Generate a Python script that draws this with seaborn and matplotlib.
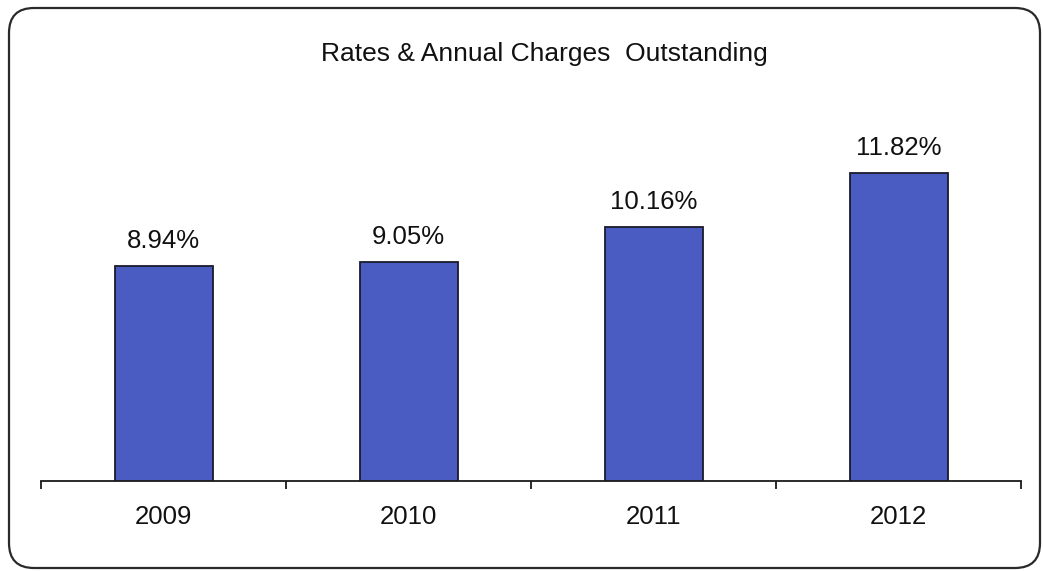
import matplotlib
matplotlib.use("Agg")
import matplotlib.pyplot as plt
from matplotlib.patches import FancyBboxPatch
import seaborn as sns
import pandas as pd

years = ["2009", "2010", "2011", "2012"]
outstanding_pct = [8.94, 9.05, 10.16, 11.82]
title = "Rates & Annual Charges  Outstanding"

sns.set_theme(style="white")
plt.rcParams["font.family"] = ["Liberation Sans", "DejaVu Sans"]

W, H, DPI = 1043, 571, 100
fig = plt.figure(figsize=(W / DPI, H / DPI), dpi=DPI)
fig.patch.set_facecolor("white")

# rounded outer frame
frame = FancyBboxPatch((0.09, 0.03), 10.31, 5.60,
                       boxstyle="round,pad=0,rounding_size=0.25",
                       transform=fig.dpi_scale_trans, facecolor="none",
                       edgecolor="#2a2a2a", linewidth=1.6)
fig.patches.append(frame)

ax = fig.add_axes([41 / W, (H - 481) / H, (1021 - 41) / W, (481 - 130) / H])
ax.set_facecolor("none")

df = pd.DataFrame({"year": years, "pct": outstanding_pct})
sns.barplot(data=df, x="year", y="pct", order=years, width=0.4,
            color="#4a5cc2", saturation=1, edgecolor="#1a1a2a",
            linewidth=1.3, ax=ax)

ax.set_xlim(-0.5, len(years) - 0.5)
ax.set_ylim(2.28, 13.15)
ax.set_xlabel("")
ax.set_ylabel("")
ax.set_yticks([])

for s in ["top", "left", "right"]:
    ax.spines[s].set_visible(False)
ax.spines["bottom"].set_color("#1a1a1a")
ax.spines["bottom"].set_linewidth(1.3)

# category labels centred under bars, tick marks on the category boundaries
ax.set_xticks(range(len(years)))
ax.set_xticklabels(years, fontsize=18.5, color="#111111")
ax.tick_params(axis="x", which="major", length=0, pad=17)
ax.set_xticks([i - 0.5 for i in range(len(years) + 1)], minor=True)
ax.tick_params(axis="x", which="minor", direction="out", length=6,
               width=1.3, color="#1a1a1a", bottom=True)

for i, v in enumerate(outstanding_pct):
    ax.annotate(f"{v:.2f}%", xy=(i, v), xytext=(0, 18),
                textcoords="offset pixels", ha="center", va="baseline",
                fontsize=18.5, color="#111111")

fig.text(544 / W, 1 - 54 / H, title, ha="center", va="center",
         fontsize=19, color="#111111")

fig.savefig("out.png", dpi=DPI)
